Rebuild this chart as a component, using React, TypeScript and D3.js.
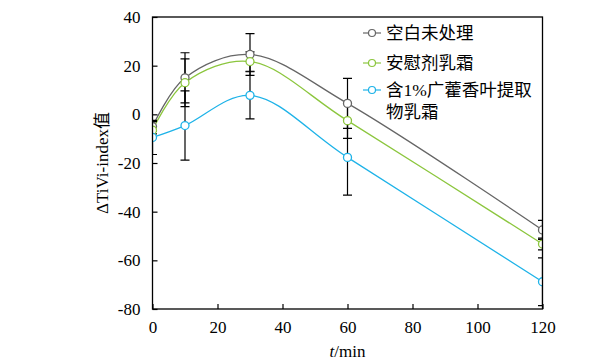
import { useEffect, useRef } from "react";
import * as d3 from "d3";

const times = [0, 10, 30, 60, 120];
const seriesNames = ["空白未处理", "安慰剂乳霜", "含1%广藿香叶提取物乳霜"];
const blankVals = [-5, 15, 24.6, 4.5, -47.5];
const blankErr = [2, 10.3, 8.6, 10.3, 3.9];
const placeboVals = [-6.5, 13, 21.7, -2.6, -53.3];
const placeboErr = [1.5, 9.8, 4, 7.3, 2.4];
const extractVals = [-9.5, -4.6, 7.8, -17.7, -68.8];
const extractErr = [7, 14.2, 9.7, 15.5, 9.8];
const colors = ["#666666", "#8cc63e", "#1fb3e8"];
const xTicks = [0, 20, 40, 60, 80, 100, 120];
const yTicks = [40, 20, 0, -20, -40, -60, -80];

const W = 611;
const H = 362;
const serif = "Liberation Serif, Times New Roman, serif";
const cjk = "Liberation Serif, Noto Sans CJK SC, serif";

const App = () => {
  const ref = useRef<SVGSVGElement | null>(null);

  useEffect(() => {
    const svg = d3.select(ref.current);
    svg.selectAll("*").remove();

    const x = d3.scaleLinear().domain([0, 120]).range([152.5, 542.5]);
    const y = d3.scaleLinear().domain([-80, 40]).range([309, 17]);

    svg
      .append("defs")
      .append("clipPath")
      .attr("id", "plotclip")
      .append("rect")
      .attr("x", x(0))
      .attr("y", y(40))
      .attr("width", x(120) - x(0))
      .attr("height", y(-80) - y(40));

    const series = [
      { name: seriesNames[0], vals: blankVals, err: blankErr, color: colors[0] },
      { name: seriesNames[1], vals: placeboVals, err: placeboErr, color: colors[1] },
      { name: seriesNames[2], vals: extractVals, err: extractErr, color: colors[2] },
    ];

    const plot = svg.append("g").attr("clip-path", "url(#plotclip)");

    const line = d3
      .line<number>()
      .x((_, i) => x(times[i]))
      .y((d) => y(d))
      .curve(d3.curveCatmullRom.alpha(0.5));

    series.forEach((s) => {
      plot
        .append("path")
        .attr("d", line(s.vals) as string)
        .attr("fill", "none")
        .attr("stroke", s.color)
        .attr("stroke-width", 1.3);
    });

    // error bars
    series.forEach((s) => {
      const g = plot.append("g").attr("stroke", "#000").attr("stroke-width", 1.2);
      s.vals.forEach((v, i) => {
        const cx = x(times[i]);
        const hi = y(v + s.err[i]);
        const lo = y(v - s.err[i]);
        g.append("line").attr("x1", cx).attr("x2", cx).attr("y1", hi).attr("y2", lo);
        [hi, lo].forEach((yy) =>
          g.append("line").attr("x1", cx - 4.5).attr("x2", cx + 4.5).attr("y1", yy).attr("y2", yy)
        );
      });
    });

    series.forEach((s) => {
      plot
        .append("g")
        .selectAll("circle")
        .data(s.vals)
        .enter()
        .append("circle")
        .attr("cx", (_, i) => x(times[i]))
        .attr("cy", (d) => y(d))
        .attr("r", 4)
        .attr("fill", "#fff")
        .attr("stroke", s.color)
        .attr("stroke-width", 1.3);
    });

    // frame
    svg
      .append("rect")
      .attr("x", x(0))
      .attr("y", y(40))
      .attr("width", x(120) - x(0))
      .attr("height", y(-80) - y(40))
      .attr("fill", "none")
      .attr("stroke", "#000")
      .attr("stroke-width", 1.3);

    const xAxis = svg
      .append("g")
      .attr("transform", `translate(0,${y(-80)})`)
      .call(d3.axisBottom(x).tickValues(xTicks).tickSizeInner(-5).tickSizeOuter(0).tickPadding(12));
    xAxis.attr("font-family", serif).attr("font-size", 17);
    xAxis.select(".domain").remove();
    xAxis.selectAll("line").attr("stroke-width", 1.2);
    xAxis.selectAll("text").attr("fill", "#000");

    const yAxis = svg
      .append("g")
      .attr("transform", `translate(${x(0)},0)`)
      .call(
        d3
          .axisLeft(y)
          .tickValues(yTicks)
          .tickFormat((d) => String(d))
          .tickSizeInner(-5)
          .tickSizeOuter(0)
          .tickPadding(12)
      );
    yAxis.attr("font-family", serif).attr("font-size", 17);
    yAxis.select(".domain").remove();
    yAxis.selectAll("line").attr("stroke-width", 1.2);
    yAxis.selectAll("text").attr("fill", "#000");

    // axis titles
    const xt = svg
      .append("text")
      .attr("x", x(60))
      .attr("y", 357)
      .attr("text-anchor", "middle")
      .attr("font-family", serif)
      .attr("font-size", 17);
    xt.append("tspan").attr("font-style", "italic").text("t");
    xt.append("tspan").text("/min");

    svg
      .append("text")
      .attr("transform", `translate(108,${y(-20)}) rotate(-90)`)
      .attr("text-anchor", "middle")
      .attr("font-family", cjk)
      .attr("font-size", 17)
      .text("ΔTiVi-index值");

    // legend
    const lg = svg.append("g");
    const rows = [
      { s: series[0], lines: ["空白未处理"], y: 33 },
      { s: series[1], lines: ["安慰剂乳霜"], y: 63 },
      { s: series[2], lines: ["含1%广藿香叶提取", "物乳霜"], y: 90 },
    ];
    rows.forEach((r) => {
      lg.append("line")
        .attr("x1", 363)
        .attr("x2", 381)
        .attr("y1", r.y)
        .attr("y2", r.y)
        .attr("stroke", r.s.color)
        .attr("stroke-width", 1.2);
      lg.append("circle")
        .attr("cx", 372)
        .attr("cy", r.y)
        .attr("r", 3.5)
        .attr("fill", "#fff")
        .attr("stroke", r.s.color)
        .attr("stroke-width", 1.2);
      r.lines.forEach((t, j) => {
        lg.append("text")
          .attr("x", 386)
          .attr("y", r.y + 6 + j * 22)
          .attr("font-family", cjk)
          .attr("font-size", 17.5)
          .text(t);
      });
    });
  }, []);

  return (
    <svg
      ref={ref}
      width={W}
      height={H}
      style={{ position: "absolute", left: 0, top: 0, background: "#fff" }}
    />
  );
};

export default App;
